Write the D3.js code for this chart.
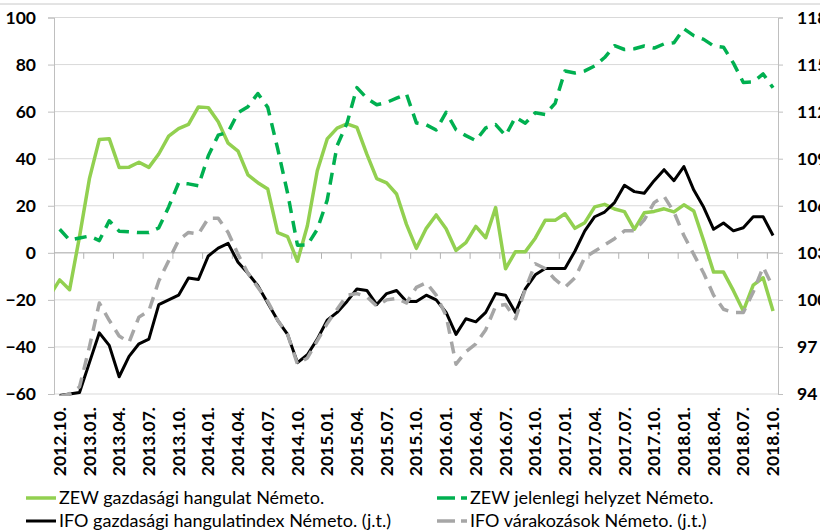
<!DOCTYPE html>
<html>
<head>
<meta charset="utf-8">
<script src="https://cdn.jsdelivr.net/npm/d3@7"></script>
<style>
  body { margin: 0; background: #fff; }
  svg { display: block; font-family: Lato, "Liberation Sans", sans-serif; }
</style>
</head>
<body>
<svg id="chart" width="820" height="530"></svg>
<script>
// monthly values, index 0 = 2012.09 (only the ZEW sentiment has that month)
const tickLabels = ["2012.10.", "2013.01.", "2013.04.", "2013.07.", "2013.10.", "2014.01.", "2014.04.",
  "2014.07.", "2014.10.", "2015.01.", "2015.04.", "2015.07.", "2015.10.", "2016.01.", "2016.04.",
  "2016.07.", "2016.10.", "2017.01.", "2017.04.", "2017.07.", "2017.10.", "2018.01.", "2018.04.",
  "2018.07.", "2018.10."];

const zewSentiment = [-18.2,
  -11.5, -15.7, 6.9,
  31.5, 48.2, 48.5, 36.3, 36.4, 38.5, 36.3, 42.0, 49.6, 52.8, 54.6, 62.0,
  61.7, 55.7, 46.6, 43.2, 33.1, 29.8, 27.1, 8.6, 6.9, -3.6, 11.5, 34.9,
  48.4, 53.0, 54.8, 53.3, 41.9, 31.5, 29.7, 25.0, 12.1, 1.9, 10.4, 16.1,
  10.2, 1.0, 4.3, 11.2, 6.4, 19.2, -6.8, 0.5, 0.5, 6.2, 13.8, 13.8,
  16.6, 10.4, 12.8, 19.5, 20.6, 18.6, 17.5, 10.0, 17.0, 17.6, 18.7, 17.4,
  20.4, 17.8, 5.1, -8.2, -8.2, -16.1, -24.7, -13.7, -10.6, -24.7];

const zewCurrent = [null,
  10.0, 5.4, 6.3,
  7.1, 5.2, 13.6, 9.2, 8.9, 8.6, 8.6, 10.6, 19.5, 29.7, 29.3, 28.5,
  41.2, 50.0, 51.3, 59.5, 62.1, 67.7, 61.8, 44.3, 25.4, 3.2, 3.3, 10.0,
  22.4, 45.5, 55.1, 70.2, 65.7, 62.9, 63.9, 65.7, 67.5, 55.2, 54.4, 52.2,
  59.7, 52.3, 49.8, 47.7, 53.1, 54.5, 49.8, 57.6, 55.1, 59.5, 58.8, 63.5,
  77.3, 76.4, 77.3, 79.4, 83.0, 88.0, 86.4, 86.7, 87.9, 87.0, 88.8, 89.3,
  95.2, 92.3, 90.7, 87.9, 87.4, 80.6, 72.4, 72.6, 76.0, 70.1];

// right axis (j.t.)
const ifoClimate = [null,
  93.9, 94.0, 94.1,
  96.0, 97.9, 97.1, 95.1, 96.4, 97.2, 97.5, 99.7, 100.0, 100.3, 101.4, 101.3,
  102.8, 103.3, 103.6, 102.4, 101.7, 100.9, 99.8, 98.7, 97.8, 96.0, 96.5, 97.5,
  98.7, 99.2, 99.9, 100.7, 100.6, 99.7, 100.4, 100.6, 99.9, 99.9, 100.3, 100.0,
  99.2, 97.8, 98.8, 98.6, 99.2, 100.4, 100.3, 99.2, 100.7, 101.6, 102.0, 102.0,
  102.0, 103.1, 104.4, 105.3, 105.6, 106.2, 107.3, 106.9, 106.8, 107.6, 108.3, 107.6,
  108.5, 107.0, 105.9, 104.5, 104.9, 104.4, 104.6, 105.3, 105.3, 104.1];

const ifoExpect = [null,
  93.85, 94.0, 94.45,
  97.0, 99.8, 98.7, 97.7, 97.3, 98.9, 99.3, 101.2, 102.5, 103.8, 104.3, 104.2,
  105.2, 105.2, 104.3, 102.9, 101.7, 100.8, 99.9, 98.7, 97.8, 95.9, 96.3, 97.4,
  98.5, 99.4, 100.3, 100.4, 100.2, 99.6, 100.0, 100.1, 99.8, 100.8, 101.1, 100.3,
  99.0, 95.9, 96.7, 97.2, 98.1, 99.6, 99.7, 98.8, 100.7, 102.3, 102.0, 101.3,
  100.8, 101.4, 102.7, 103.1, 103.5, 103.9, 104.4, 104.4, 105.1, 106.2, 106.6, 105.6,
  104.1, 102.9, 101.7, 100.3, 99.4, 99.2, 99.2, 100.5, 102.1, 100.8];

const leftTicks = [-60, -40, -20, 0, 20, 40, 60, 80, 100];
const rightTicks = [94, 97, 100, 103, 106, 109, 112, 115, 118];

const seriesNames = ["ZEW gazdasági hangulat Németo.", "ZEW jelenlegi helyzet Németo.",
  "IFO gazdasági hangulatindex Németo. (j.t.)", "IFO várakozások Németo. (j.t.)"];

const plot = { left: 54, right: 778, top: 17.5, bottom: 394 };

const svg = d3.select("#chart");

const x = d3.scaleLinear().domain([0.425, 73.5]).range([plot.left, plot.right]);
const yL = d3.scaleLinear().domain([-60, 100]).range([plot.bottom, plot.top]);
const yR = d3.scaleLinear().domain([94, 118]).range([plot.bottom, plot.top]);

// thin line at the top (chart frame)
svg.append("line")
  .attr("x1", 0).attr("x2", 820).attr("y1", 4).attr("y2", 4)
  .attr("stroke", "#c8c8c8").attr("stroke-width", 1);

// gridlines
svg.append("g")
  .selectAll("line")
  .data(leftTicks)
  .enter()
  .append("line")
  .attr("x1", plot.left).attr("x2", plot.right)
  .attr("y1", (d) => yL(d)).attr("y2", (d) => yL(d))
  .attr("stroke", "#d9d9d9").attr("stroke-width", 1);

// left axis
const gLeft = svg.append("g")
  .attr("transform", `translate(${plot.left},0)`)
  .call(d3.axisLeft(yL).tickValues(leftTicks).tickSize(6).tickPadding(12));

// right axis (labels run off the right edge, as in the original)
const gRight = svg.append("g")
  .attr("transform", `translate(${plot.right},0)`)
  .call(d3.axisRight(yR).tickValues(rightTicks).tickSize(5).tickPadding(14));

[gLeft, gRight].forEach((g) => {
  g.select(".domain").attr("stroke", "#bfbfbf");
  g.selectAll(".tick line").attr("stroke", "#bfbfbf");
  g.selectAll("text")
    .attr("font-family", "Lato, sans-serif")
    .attr("font-size", 17.5)
    .attr("font-weight", "bold")
    .attr("fill", "#000");
});

// category axis at zero
const y0 = yL(0);
svg.append("line")
  .attr("x1", plot.left).attr("x2", plot.right)
  .attr("y1", y0).attr("y2", y0)
  .attr("stroke", "#b3b3b3").attr("stroke-width", 1);

const tickIdx = d3.range(1, 25).map((k) => 3 * k + 0.425);
svg.append("g")
  .selectAll("line")
  .data(tickIdx)
  .enter()
  .append("line")
  .attr("x1", (d) => x(d)).attr("x2", (d) => x(d))
  .attr("y1", y0).attr("y2", y0 + 6)
  .attr("stroke", "#b3b3b3");

// rotated month labels
svg.append("g")
  .selectAll("text")
  .data(tickLabels)
  .enter()
  .append("text")
  .attr("transform", (d, i) => `translate(${x(1 + 3 * i)},407) rotate(-90)`)
  .attr("text-anchor", "end")
  .attr("dy", "0.35em")
  .attr("font-size", 17.5)
  .attr("font-weight", "bold")
  .text((d) => d);

// clip to plot area
svg.append("clipPath").attr("id", "plotClip")
  .append("rect")
  .attr("x", plot.left).attr("y", plot.top - 4)
  .attr("width", plot.right - plot.left).attr("height", plot.bottom - plot.top + 6);

const lines = svg.append("g").attr("clip-path", "url(#plotClip)");

const series = [
  { values: zewSentiment, scale: yL, color: "#92d050", dash: null, width: 3.5 },
  { values: zewCurrent, scale: yL, color: "#00b050", dash: "12,8", width: 3.5 },
  { values: ifoClimate, scale: yR, color: "#000000", dash: null, width: 3 },
  { values: ifoExpect, scale: yR, color: "#a6a6a6", dash: "12,8", width: 3.5 },
];

series.forEach((s) => {
  const line = d3.line()
    .defined((d) => d != null)
    .x((d, i) => x(i))
    .y((d) => s.scale(d));
  lines.append("path")
    .datum(s.values)
    .attr("fill", "none")
    .attr("stroke", s.color)
    .attr("stroke-width", s.width)
    .attr("stroke-linejoin", "round")
    .attr("stroke-dasharray", s.dash)
    .attr("d", line);
});

// legend
const legendPos = [
  { x: 26, y: 498 }, { x: 437, y: 498 },
  { x: 26, y: 521 }, { x: 437, y: 521 },
];
const legend = svg.append("g");
series.forEach((s, i) => {
  const p = legendPos[i];
  legend.append("line")
    .attr("x1", p.x).attr("x2", p.x + 30)
    .attr("y1", p.y).attr("y2", p.y)
    .attr("stroke", s.color)
    .attr("stroke-width", s.width)
    .attr("stroke-dasharray", s.dash ? "18,6" : null);
  legend.append("text")
    .attr("x", p.x + 33).attr("y", p.y)
    .attr("dy", "0.36em")
    .attr("font-size", 18)
    .attr("fill", "#000")
    .text(seriesNames[i]);
});
</script>
</body>
</html>
